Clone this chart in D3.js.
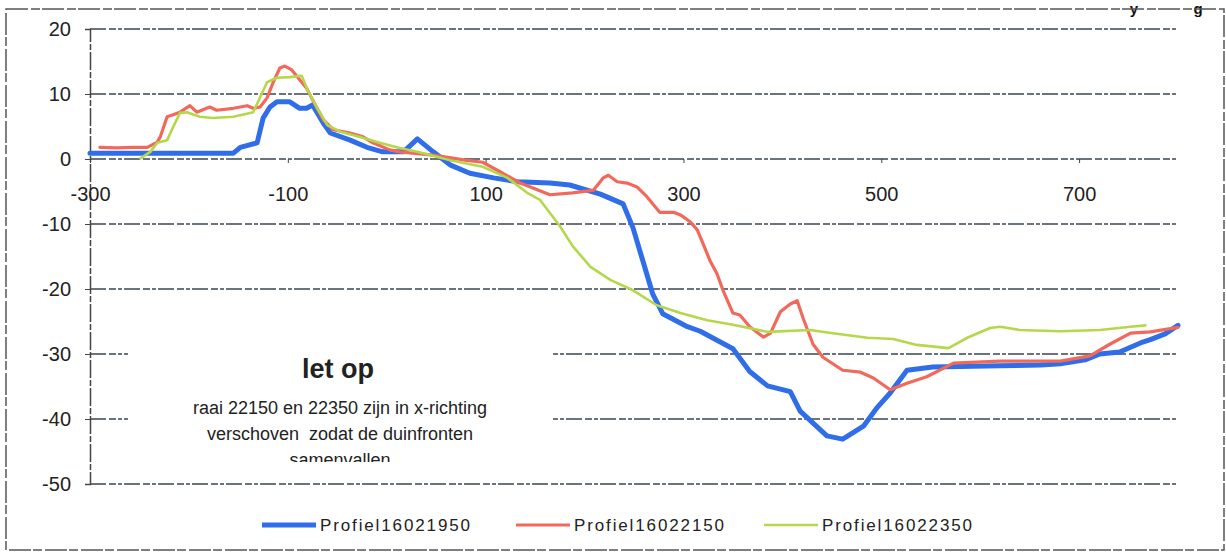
<!DOCTYPE html>
<html>
<head>
<meta charset="utf-8">
<script src="https://cdn.jsdelivr.net/npm/d3@7"></script>
<style>
  body { margin: 0; background: #fff; }
  svg { display: block; font-family: "Liberation Sans", Arial, sans-serif; }
  text { white-space: pre; }
</style>
</head>
<body>
<div id="okvir"></div>
<script>
// afstand (m) en hoogte (m) per profiel
const blauwX = [-300,-155,-148,-131,-125,-118,-111,-98,-88,-81,-75,-64,-57,-37,-20,-4,17,31,47,64,84,108,132,165,185,216,239,249,259,269,279,304,317,350,367,385,408,418,445,461,482,496,509,526,552,620,661,681,706,721,741,762,772,787,800];
const blauwY = [0.9,0.9,1.8,2.5,6.3,8.0,8.8,8.8,7.8,7.8,8.3,5.5,4.0,2.9,1.8,1.1,1.1,3.1,1.1,-0.9,-2.2,-2.9,-3.5,-3.7,-4.0,-5.4,-6.9,-10.6,-15.7,-20.8,-23.8,-25.8,-26.5,-29.2,-32.7,-34.9,-35.8,-38.8,-42.6,-43.1,-41.1,-38.2,-36.0,-32.5,-32.0,-31.8,-31.7,-31.5,-30.9,-30.0,-29.7,-28.3,-27.8,-26.9,-25.6];

const roodX = [-290,-273,-257,-242,-232,-229,-222,-216,-209,-199,-192,-179,-172,-155,-141,-135,-128,-121,-115,-108,-103,-96,-88,-81,-75,-64,-54,-37,-24,-14,3,13,47,81,97,115,135,165,188,209,219,224,233,243,253,263,276,290,297,307,314,320,327,334,340,350,357,367,381,388,398,408,415,421,431,441,461,479,492,509,526,546,573,620,681,711,731,752,772,800];
const roodY = [1.8,1.7,1.8,1.8,2.6,3.4,6.5,6.8,7.2,8.2,7.2,8.0,7.5,7.8,8.2,7.8,8.0,9.4,11.7,14.0,14.3,13.7,12.2,10.9,9.1,6.0,4.5,4.0,3.4,2.5,1.4,1.1,0.6,-0.2,-0.5,-2.0,-3.7,-5.5,-5.2,-4.8,-2.9,-2.5,-3.5,-3.7,-4.3,-5.8,-8.2,-8.2,-8.6,-9.7,-10.9,-13.1,-15.7,-17.7,-20.2,-23.7,-24.0,-25.8,-27.4,-26.8,-23.5,-22.3,-21.8,-24.5,-28.5,-30.5,-32.5,-32.8,-33.7,-35.5,-34.5,-33.5,-31.4,-31.1,-31.1,-30.3,-28.5,-26.8,-26.6,-25.9];

const groenX = [-249,-239,-232,-222,-216,-209,-202,-189,-176,-155,-135,-128,-121,-111,-98,-86,-80,-71,-60,-47,-27,-7,13,31,64,97,122,142,155,175,188,206,226,249,273,297,324,350,385,428,451,486,512,536,568,587,610,620,640,681,721,752,767];
const groenY = [0.1,1.1,2.5,2.9,4.9,7.1,7.2,6.5,6.3,6.5,7.2,9.5,11.8,12.5,12.6,12.8,10.6,8.0,5.2,4.2,3.4,2.5,1.7,1.1,-0.2,-1.2,-2.9,-5.2,-6.3,-10.3,-13.4,-16.6,-18.6,-20.2,-22.5,-23.7,-24.8,-25.5,-26.6,-26.3,-26.8,-27.5,-27.7,-28.6,-29.1,-27.5,-26.0,-25.8,-26.3,-26.5,-26.3,-25.8,-25.6];

const reeksen = [
  { naam: "Profiel16021950", x: blauwX, y: blauwY, boja: "#2f6ee8", dikte: 5 },
  { naam: "Profiel16022150", x: roodX, y: roodY, boja: "#f2695b", dikte: 3.2 },
  { naam: "Profiel16022350", x: groenX, y: groenY, boja: "#b4d84a", dikte: 2.6 }
];

const xTicks = [-300, -100, 100, 300, 500, 700];
const yTicks = [20, 10, 0, -10, -20, -30, -40, -50];

const noteTitel = "let op";
const noteRegels = ["raai 22150 en 22350 zijn in x-richting", "verschoven  zodat de duinfronten", "samenvallen"];

const dim = { sirina: 1226, visina: 553, left: 90, right: 1178, top: 29, bottom: 484 };

const okvir = d3.select("#okvir").append("svg")
  .attr("width", dim.sirina)
  .attr("height", dim.visina);

const xSkala = d3.scaleLinear().domain([-300, 800]).range([dim.left, dim.right]);
const ySkala = d3.scaleLinear().domain([-50, 20]).range([dim.bottom, dim.top]);

// restant van de titel bovenaan
const titel = okvir.append("text")
  .attr("y", 14)
  .attr("font-size", 15)
  .attr("font-weight", "bold")
  .attr("fill", "#111")
  .attr("text-anchor", "middle");
titel.append("tspan").attr("x", 1134).text("y");
titel.append("tspan").attr("x", 1198).text("g");

// buitenrand
okvir.append("rect")
  .attr("x", 6).attr("y", 9)
  .attr("width", 1218).attr("height", 541)
  .attr("fill", "none")
  .attr("stroke", "#555")
  .attr("stroke-width", 1.5)
  .attr("stroke-dasharray", "22,3,9,2");

// rasterlijnen
okvir.append("g").selectAll("line")
  .data(yTicks)
  .join("line")
    .attr("x1", dim.left).attr("x2", dim.right)
    .attr("y1", d => ySkala(d)).attr("y2", d => ySkala(d))
    .attr("stroke", "#3b4656")
    .attr("stroke-width", 1.4)
    .attr("stroke-dasharray", "16,3,7,2,4,2");

const fmt = d => String(d);

// y-as
const yOs = okvir.append("g")
  .attr("transform", `translate(${dim.left},0)`)
  .call(d3.axisLeft(ySkala).tickValues(yTicks).tickSize(5).tickPadding(14).tickFormat(fmt));
yOs.select(".domain").attr("stroke", "#444").attr("stroke-width", 1.5).attr("stroke-dasharray", "18,2,6,2");
yOs.selectAll(".tick line").attr("stroke", "#444");
yOs.selectAll("text").attr("font-size", 20).attr("fill", "#222").attr("font-family", "Liberation Sans, Arial, sans-serif");

// x-as op y = 0
const xOs = okvir.append("g")
  .attr("transform", `translate(0,${ySkala(0)})`)
  .call(d3.axisBottom(xSkala).tickValues(xTicks).tickSize(4).tickPadding(24).tickFormat(fmt));
xOs.select(".domain").remove();
xOs.selectAll(".tick line").attr("stroke", "#444");
xOs.selectAll("text").attr("font-size", 20).attr("fill", "#222").attr("font-family", "Liberation Sans, Arial, sans-serif");

// tekstvak (wit, dekt rasterlijnen af)
okvir.append("rect")
  .attr("x", 128).attr("y", 336)
  .attr("width", 425).attr("height", 126)
  .attr("fill", "#fff");

// lijnen
const lijn = d3.line()
  .x(d => xSkala(d[0]))
  .y(d => ySkala(d[1]));

const granice = okvir.append("g");
reeksen.forEach(r => {
  const punten = r.x.map((v, i) => [v, r.y[i]]);
  granice.append("path")
    .datum(punten)
    .attr("d", lijn)
    .attr("fill", "none")
    .attr("stroke", r.boja)
    .attr("stroke-width", r.dikte)
    .attr("stroke-linejoin", "round")
    .attr("stroke-linecap", "round");
});

// notitie
const clip = okvir.append("clipPath").attr("id", "vakclip");
clip.append("rect").attr("x", 128).attr("y", 336).attr("width", 425).attr("height", 126);
const noot = okvir.append("g").attr("clip-path", "url(#vakclip)");
noot.append("text")
  .attr("x", 338).attr("y", 378)
  .attr("text-anchor", "middle")
  .attr("font-size", 27)
  .attr("font-weight", "bold")
  .attr("fill", "#222")
  .text(noteTitel);
noteRegels.forEach((t, i) => {
  noot.append("text")
    .attr("x", 340).attr("y", 414 + i * 26)
    .attr("text-anchor", "middle")
    .attr("font-size", 18)
    .attr("fill", "#222")
    .text(t);
});

// legenda
const legX = [262, 516, 764];
const legenda = okvir.append("g");
reeksen.forEach((r, i) => {
  legenda.append("line")
    .attr("x1", legX[i]).attr("x2", legX[i] + 54)
    .attr("y1", 525).attr("y2", 525)
    .attr("stroke", r.boja)
    .attr("stroke-width", r.dikte);
  legenda.append("text")
    .attr("x", legX[i] + 58).attr("y", 531)
    .attr("font-size", 17)
    .attr("fill", "#222")
    .attr("textLength", 150)
    .attr("lengthAdjust", "spacing")
    .text(r.naam);
});
</script>
</body>
</html>
